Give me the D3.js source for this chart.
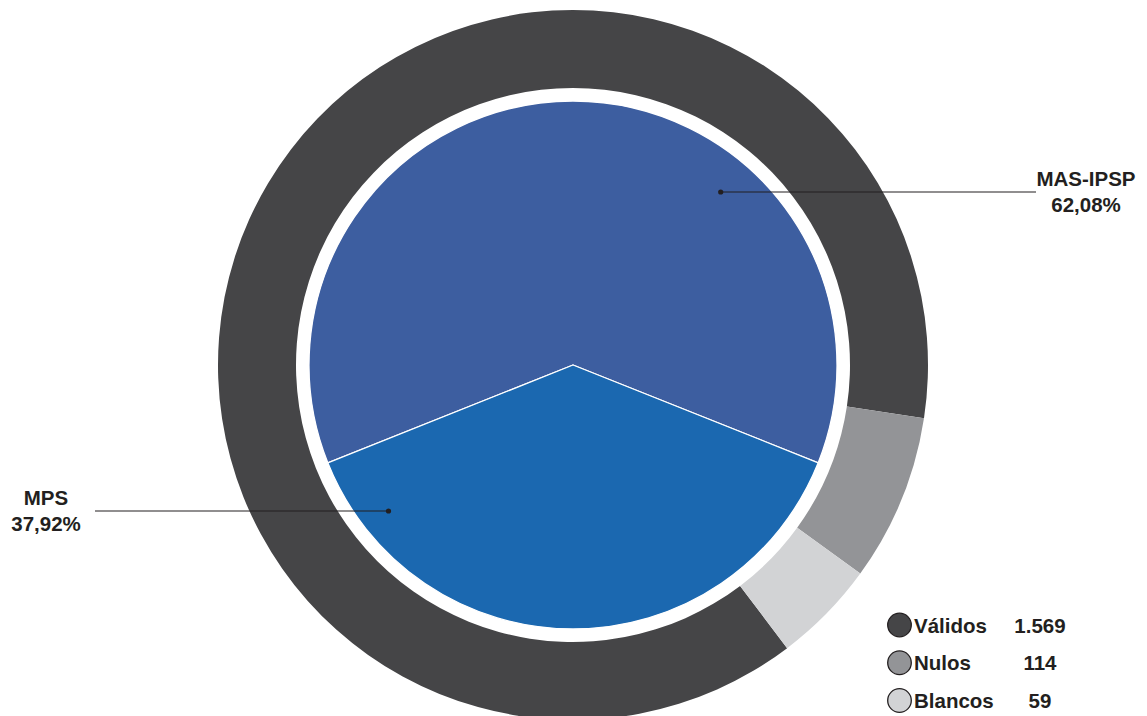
<!DOCTYPE html>
<html><head><meta charset="utf-8">
<script src="https://cdn.jsdelivr.net/npm/d3@7"></script>
<style>body{margin:0;background:#fff}svg{display:block}text{font-family:"Liberation Sans",Arial,sans-serif;font-weight:bold;fill:#231f20}</style>
</head><body>
<svg id="c" width="1147" height="716"></svg>
<script>
// Inner pie: party shares (%)
const parties = ["MAS-IPSP", "MPS"];
const partyShares = [62.08, 37.92];
const partyLabels = ["62,08%", "37,92%"];
const partyColors = ["#3d5ea0", "#1b68b0"];

// Outer ring: vote categories
const voteCats = ["Válidos", "Nulos", "Blancos"];
const voteCounts = [1569, 114, 59];
const voteCountLabels = ["1.569", "114", "59"];
// arc shares as drawn in the picture (%)
const ringShares = [87.7, 7.6, 4.7];
const voteColors = ["#454547", "#939497", "#d2d3d5"];

const svg = d3.select("#c");
const cx = 573, cy = 365;
const g = svg.append("g").attr("transform", `translate(${cx},${cy})`);
const deg = Math.PI / 180;

// outer ring
const ringPie = d3.pie().sort(null).value(d => d.v)
  .startAngle(-217.1 * deg).endAngle(142.9 * deg);
const ringData = ringPie(voteCats.map((c, i) => ({c, v: ringShares[i], color: voteColors[i]})));
const ringArc = d3.arc().innerRadius(277).outerRadius(355);
g.selectAll("path.ring").data(ringData).join("path").attr("class", "ring")
  .attr("d", ringArc).attr("fill", d => d.data.color);

// inner pie
const pie = d3.pie().sort(null).value(d => d.v)
  .startAngle(-111.75 * deg).endAngle(248.25 * deg);
const pieData = pie(parties.map((p, i) => ({p, v: partyShares[i], color: partyColors[i], lab: partyLabels[i]})));
const arc = d3.arc().innerRadius(0).outerRadius(264);
g.selectAll("path.slice").data(pieData).join("path").attr("class", "slice")
  .attr("d", arc).attr("fill", d => d.data.color)
  .attr("stroke", "#fff").attr("stroke-width", 1.3).attr("stroke-linejoin", "round");

// labels with leader lines
const labelCfg = [
  {dot: [720.7, 192], lineEnd: 1036, tx: 1086},
  {dot: [388.5, 511], lineEnd: 95, tx: 46}
];
pieData.forEach((d, i) => {
  const c = labelCfg[i];
  svg.append("line").attr("x1", c.dot[0]).attr("y1", c.dot[1])
    .attr("x2", c.lineEnd).attr("y2", c.dot[1])
    .attr("stroke", "#231f20").attr("stroke-width", 1.2);
  svg.append("circle").attr("cx", c.dot[0]).attr("cy", c.dot[1]).attr("r", 2.6).attr("fill", "#231f20");
  const t = svg.append("text").attr("text-anchor", "middle").attr("font-size", 20.5);
  t.append("tspan").attr("x", c.tx).attr("y", c.dot[1] - 6).text(d.data.p);
  t.append("tspan").attr("x", c.tx).attr("y", c.dot[1] + 20).text(d.data.lab);
});

// legend
const leg = svg.append("g");
const ly = d3.scalePoint().domain(voteCats).range([625, 700.5]);
voteCats.forEach((c, i) => {
  const y = ly(c);
  leg.append("circle").attr("cx", 899.5).attr("cy", y).attr("r", 11.8)
    .attr("fill", voteColors[i]).attr("stroke", "#231f20").attr("stroke-width", 1.3);
  leg.append("text").attr("x", 914).attr("y", y + 7.5).attr("font-size", 20.5).text(c);
  leg.append("text").attr("x", 1040).attr("y", y + 7.5).attr("font-size", 20.5)
    .attr("text-anchor", "middle").text(voteCountLabels[i]);
});
</script>
</body></html>
